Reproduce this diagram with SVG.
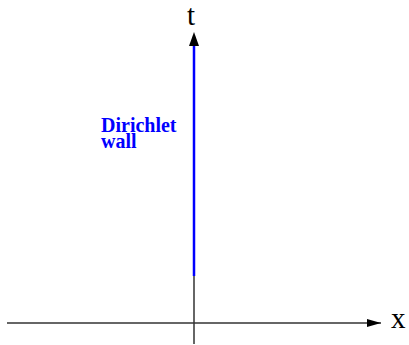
<svg xmlns="http://www.w3.org/2000/svg" width="409" height="345" viewBox="0 0 409 345">
<defs>
<marker id="ah" markerWidth="14" markerHeight="8" refX="14" refY="4" orient="auto" markerUnits="userSpaceOnUse">
<path d="M0,0 L14,4 L0,8 Z" fill="#000"/>
</marker>
<style>
.ax{stroke:#333;stroke-width:1.5;fill:none}
.lbl{font-family:"Liberation Serif",serif;font-size:29px;fill:#000}
.wl{font-family:"Liberation Serif",serif;font-size:20px;font-weight:bold;fill:#0000ff}
</style>
</defs>
<g id="connectors">
<line class="ax" x1="7" y1="323" x2="381" y2="323" marker-end="url(#ah)"/>
<line class="ax" x1="194" y1="344" x2="194" y2="276"/>
<line x1="194" y1="276" x2="194" y2="45" stroke="#0000ff" stroke-width="2.5"/>
<path d="M194,32 L199,46 L189,46 Z" fill="#000"/>
</g>
<g id="label-t"><text class="lbl" x="187" y="25">t</text></g>
<g id="label-x"><text class="lbl" x="391" y="328">x</text></g>
<g id="wall-label"><text class="wl" x="101" y="132">Dirichlet</text><text class="wl" x="101" y="148">wall</text></g>
</svg>
